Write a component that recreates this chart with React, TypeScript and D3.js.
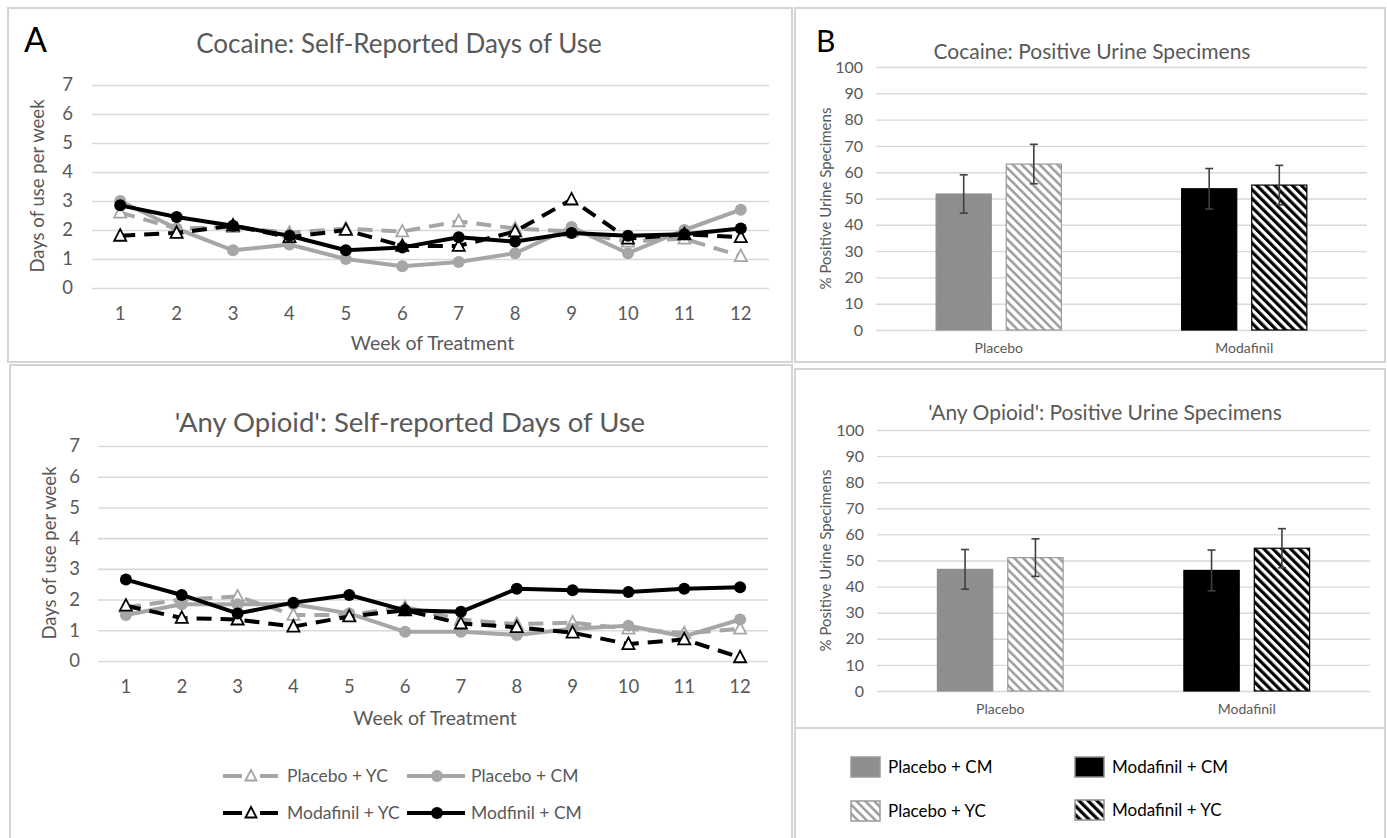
import { useEffect, useRef } from 'react';
import * as d3 from 'd3';

// weeks of treatment (x categories of the line charts)
const weeks = ['1', '2', '3', '4', '5', '6', '7', '8', '9', '10', '11', '12'];
const lineNames = ['Placebo + YC', 'Placebo + CM', 'Modafinil + YC', 'Modfinil + CM'];

// Cocaine: self-reported days of use per week
const cocainePlaceboYC = [2.6, 2.05, 2.1, 1.9, 2.05, 1.95, 2.3, 2.05, 1.95, 1.6, 1.7, 1.1];
const cocainePlaceboCM = [3.0, 2.05, 1.3, 1.5, 1.0, 0.75, 0.9, 1.2, 2.1, 1.2, 2.0, 2.7];
const cocaineModafinilYC = [1.8, 1.9, 2.15, 1.75, 2.0, 1.45, 1.45, 1.95, 3.05, 1.7, 1.85, 1.75];
const cocaineModafinilCM = [2.85, 2.45, 2.15, 1.8, 1.3, 1.4, 1.75, 1.6, 1.9, 1.8, 1.85, 2.05];

// 'Any Opioid': self-reported days of use per week
const opioidPlaceboYC = [1.75, 2.0, 2.1, 1.5, 1.5, 1.75, 1.35, 1.2, 1.25, 1.05, 0.9, 1.05];
const opioidPlaceboCM = [1.5, 1.85, 1.85, 1.85, 1.55, 0.95, 0.95, 0.85, 1.05, 1.15, 0.8, 1.35];
const opioidModafinilYC = [1.8, 1.4, 1.35, 1.12, 1.45, 1.65, 1.22, 1.1, 0.92, 0.55, 0.7, 0.12];
const opioidModafinilCM = [2.65, 2.15, 1.55, 1.9, 2.15, 1.65, 1.6, 2.35, 2.3, 2.25, 2.35, 2.4];

// urine specimens (% positive), grouped by medication
const groups = ['Placebo', 'Modafinil'];
const conditions = ['CM', 'YC'];
const cocaineCM = [51.7, 53.7];
const cocaineCMErr = [7.3, 7.7];
const cocaineYC = [63.1, 55.1];
const cocaineYCErr = [7.5, 7.5];
const opioidCM = [46.6, 46.2];
const opioidCMErr = [7.6, 7.8];
const opioidYC = [51.1, 54.7];
const opioidYCErr = [7.2, 7.5];

const FONT = 'Lato, "Open Sans", sans-serif';
const GRAY = '#a6a6a6';
const TEXT = '#595959';
const GRID = '#d9d9d9';
const BORDER = '#d4d4d4';

type Series = { name: string, values: number[], color: string, dash: string | null, marker: 'tri' | 'dot' };

const makeSeries = (a: number[], b: number[], c: number[], d: number[]): Series[] => [
	{ name: lineNames[0], values: a, color: GRAY, dash: '15,9', marker: 'tri' },
	{ name: lineNames[1], values: b, color: GRAY, dash: null, marker: 'dot' },
	{ name: lineNames[2], values: c, color: '#000', dash: '15,9', marker: 'tri' },
	{ name: lineNames[3], values: d, color: '#000', dash: null, marker: 'dot' },
];

const triPath = (cx: number, cy: number, s: number) =>
	`M${cx},${cy - s * 0.6}L${cx + s * 0.55},${cy + s * 0.45}L${cx - s * 0.55},${cy + s * 0.45}Z`;

const drawLinePanel = (svg: any, o: any) => {
	const x = d3.scaleBand().domain(weeks).range([o.left, o.right]);
	const y = d3.scaleLinear().domain([0, 7]).range([o.bottom, o.top]);

	svg.append('g')
		.attr('transform', `translate(${o.left},0)`)
		.call(d3.axisLeft(y).ticks(7).tickSize(-(o.right - o.left)).tickPadding(o.yPad))
		.call((g: any) => g.select('.domain').remove())
		.call((g: any) => g.selectAll('line').attr('stroke', GRID).attr('stroke-width', 1.6))
		.call((g: any) => g.selectAll('text').attr('fill', TEXT).attr('font-size', 18.5).attr('font-family', FONT));

	svg.append('g')
		.attr('transform', `translate(0,${o.bottom})`)
		.call(d3.axisBottom(x).tickSize(0).tickPadding(o.xPad))
		.call((g: any) => g.select('.domain').remove())
		.call((g: any) => g.selectAll('text').attr('fill', TEXT).attr('font-size', 18.5).attr('font-family', FONT));

	const px = (i: number) => (x(weeks[i]) as number) + x.bandwidth() / 2;
	const line = d3.line<number>().x((d, i) => px(i)).y(d => y(d));

	o.series.forEach((s: Series) => {
		svg.append('path')
			.attr('d', line(s.values))
			.attr('fill', 'none')
			.attr('stroke', s.color)
			.attr('stroke-width', 4)
			.attr('stroke-linejoin', 'round')
			.attr('stroke-dasharray', s.dash);
		const g = svg.append('g');
		if (s.marker === 'dot') {
			g.selectAll('circle').data(s.values).join('circle')
				.attr('cx', (d: number, i: number) => px(i))
				.attr('cy', (d: number) => y(d))
				.attr('r', 6)
				.attr('fill', s.color);
		} else {
			g.selectAll('path').data(s.values).join('path')
				.attr('d', (d: number, i: number) => triPath(px(i), y(d), 11))
				.attr('fill', '#fff')
				.attr('stroke', s.color)
				.attr('stroke-width', 1.8);
		}
	});

	svg.append('text')
		.attr('x', o.titleX).attr('y', o.titleY)
		.attr('text-anchor', 'middle').attr('dy', '0.35em')
		.attr('font-size', o.titleSize).attr('fill', TEXT).attr('font-family', FONT)
		.text(o.title);
	svg.append('text')
		.attr('x', (o.left + o.right) / 2 + 2).attr('y', o.xTitleY)
		.attr('text-anchor', 'middle').attr('dy', '0.35em')
		.attr('font-size', 19.5).attr('fill', TEXT).attr('font-family', FONT)
		.text('Week of Treatment');
	svg.append('text')
		.attr('transform', `translate(${o.yTitleX},${o.yTitleY}) rotate(-90)`)
		.attr('text-anchor', 'middle').attr('dy', '0.35em')
		.attr('font-size', 18.5).attr('fill', TEXT).attr('font-family', FONT)
		.text('Days of use per week');
};

const drawBarPanel = (svg: any, o: any) => {
	const x0 = d3.scaleBand().domain(groups).range([o.left, o.right]).paddingInner(0.49).paddingOuter(0.245);
	const x1 = d3.scaleBand().domain(conditions).range([0, x0.bandwidth()]).paddingInner(0.214);
	const y = d3.scaleLinear().domain([0, 100]).range([o.bottom, o.top]);

	svg.append('g')
		.attr('transform', `translate(${o.left},0)`)
		.call(d3.axisLeft(y).ticks(10).tickSize(-(o.right - o.left)).tickPadding(13))
		.call((g: any) => g.select('.domain').remove())
		.call((g: any) => g.selectAll('line').attr('stroke', GRID).attr('stroke-width', 1.4))
		.call((g: any) => g.selectAll('text').attr('fill', TEXT).attr('font-size', 16).attr('font-family', FONT));

	svg.append('g')
		.attr('transform', `translate(0,${o.bottom})`)
		.call(d3.axisBottom(x0).tickSize(0).tickPadding(13))
		.call((g: any) => g.select('.domain').remove())
		.call((g: any) => g.selectAll('text').attr('fill', TEXT).attr('font-size', 14).attr('font-family', FONT));

	const rows = groups.map((grp, i) => [
		{ grp, cond: 'CM', v: o.cm[i], e: o.cmErr[i], fill: i === 0 ? '#8e8e8e' : '#000', stroke: i === 0 ? '#8e8e8e' : '#000' },
		{ grp, cond: 'YC', v: o.yc[i], e: o.ycErr[i], fill: i === 0 ? 'url(#hatchGray)' : 'url(#hatchBlack)', stroke: i === 0 ? '#9a9a9a' : '#000' },
	]).flat();

	svg.append('g').selectAll('rect').data(rows).join('rect')
		.attr('x', (d: any) => (x0(d.grp) as number) + (x1(d.cond) as number))
		.attr('y', (d: any) => y(d.v))
		.attr('width', x1.bandwidth())
		.attr('height', (d: any) => y(0) - y(d.v))
		.attr('fill', (d: any) => d.fill)
		.attr('stroke', (d: any) => d.stroke)
		.attr('stroke-width', 1.2);

	const eb = svg.append('g').attr('stroke', '#404040').attr('stroke-width', 1.6);
	rows.forEach((d: any) => {
		const cx = (x0(d.grp) as number) + (x1(d.cond) as number) + x1.bandwidth() / 2;
		eb.append('line').attr('x1', cx).attr('x2', cx).attr('y1', y(d.v + d.e)).attr('y2', y(d.v - d.e));
		eb.append('line').attr('x1', cx - 4).attr('x2', cx + 4).attr('y1', y(d.v + d.e)).attr('y2', y(d.v + d.e));
		eb.append('line').attr('x1', cx - 4).attr('x2', cx + 4).attr('y1', y(d.v - d.e)).attr('y2', y(d.v - d.e));
	});

	svg.append('text')
		.attr('x', o.titleX).attr('y', o.titleY)
		.attr('text-anchor', 'middle').attr('dy', '0.35em')
		.attr('font-size', 21).attr('fill', TEXT).attr('font-family', FONT)
		.text(o.title);
	svg.append('text')
		.attr('transform', `translate(826,${(o.top + o.bottom) / 2}) rotate(-90)`)
		.attr('text-anchor', 'middle').attr('dy', '0.35em')
		.attr('font-size', 15).attr('fill', TEXT).attr('font-family', FONT)
		.text('% Positive Urine Specimens');
};

export default function App() {
	const ref = useRef<SVGSVGElement>(null);

	useEffect(() => {
		const svg = d3.select(ref.current);
		svg.selectAll('*').remove();

		const defs = svg.append('defs');
		[['hatchGray', '#a0a0a0', 2.6], ['hatchBlack', '#000', 3.2]].forEach(([id, c, w]) => {
			const p = defs.append('pattern')
				.attr('id', id as string)
				.attr('patternUnits', 'userSpaceOnUse')
				.attr('width', 6.3).attr('height', 6.3)
				.attr('patternTransform', 'rotate(-45)');
			p.append('rect').attr('width', 6.3).attr('height', 6.3).attr('fill', '#fff');
			p.append('rect').attr('width', w as number).attr('height', 6.3).attr('fill', c as string);
		});

		svg.append('rect').attr('width', 1387).attr('height', 838).attr('fill', '#fff');

		// panel frames
		const frames = [[8, 8, 784, 354], [10, 365, 782, 480], [795, 8, 590, 354], [795, 369, 590, 359], [795, 728, 590, 120]];
		svg.append('g').selectAll('rect').data(frames).join('rect')
			.attr('x', (d: number[]) => d[0]).attr('y', (d: number[]) => d[1])
			.attr('width', (d: number[]) => d[2]).attr('height', (d: number[]) => d[3])
			.attr('fill', 'none').attr('stroke', BORDER).attr('stroke-width', 2);

		drawLinePanel(svg, {
			left: 92, right: 769, top: 85, bottom: 288, yPad: 19, xPad: 19,
			series: makeSeries(cocainePlaceboYC, cocainePlaceboCM, cocaineModafinilYC, cocaineModafinilCM),
			title: 'Cocaine: Self-Reported Days of Use', titleX: 399, titleY: 44, titleSize: 26,
			xTitleY: 343, yTitleX: 38, yTitleY: 186,
		});
		drawLinePanel(svg, {
			left: 98, right: 768, top: 446, bottom: 661, yPad: 18, xPad: 19,
			series: makeSeries(opioidPlaceboYC, opioidPlaceboCM, opioidModafinilYC, opioidModafinilCM),
			title: "'Any Opioid': Self-reported Days of Use", titleX: 410, titleY: 422, titleSize: 27.5,
			xTitleY: 718, yTitleX: 50, yTitleY: 553,
		});

		drawBarPanel(svg, {
			left: 876, right: 1367, top: 67, bottom: 330,
			cm: cocaineCM, cmErr: cocaineCMErr, yc: cocaineYC, ycErr: cocaineYCErr,
			title: 'Cocaine: Positive Urine Specimens', titleX: 1092, titleY: 52,
		});
		drawBarPanel(svg, {
			left: 877, right: 1370, top: 430, bottom: 691,
			cm: opioidCM, cmErr: opioidCMErr, yc: opioidYC, ycErr: opioidYCErr,
			title: "'Any Opioid': Positive Urine Specimens", titleX: 1105, titleY: 413,
		});

		// panel letters
		svg.append('text').attr('x', 24).attr('y', 52).attr('font-size', 34).attr('font-family', FONT).text('A');
		svg.append('text').attr('x', 816).attr('y', 52).attr('font-size', 30).attr('font-family', FONT).text('B');

		// line legend
		const lineLegend = [
			{ s: 0, x: 223, y: 776 }, { s: 1, x: 407, y: 776 },
			{ s: 2, x: 223, y: 813 }, { s: 3, x: 407, y: 813 },
		];
		const seriesStyle = makeSeries([], [], [], []);
		lineLegend.forEach(({ s, x, y }) => {
			const st = seriesStyle[s];
			const g = svg.append('g');
			if (st.marker === 'tri') {
				g.append('line').attr('x1', x).attr('x2', x + 19).attr('y1', y).attr('y2', y).attr('stroke', st.color).attr('stroke-width', 4);
				g.append('line').attr('x1', x + 37).attr('x2', x + 55).attr('y1', y).attr('y2', y).attr('stroke', st.color).attr('stroke-width', 4);
				g.append('path').attr('d', triPath(x + 28, y, 10)).attr('fill', '#fff').attr('stroke', st.color).attr('stroke-width', 1.8);
			} else {
				g.append('line').attr('x1', x).attr('x2', x + 58).attr('y1', y).attr('y2', y).attr('stroke', st.color).attr('stroke-width', 4);
				g.append('circle').attr('cx', x + 30).attr('cy', y).attr('r', 6).attr('fill', st.color);
			}
			g.append('text').attr('x', x + 64).attr('y', y).attr('dy', '0.35em')
				.attr('font-size', 17.5).attr('fill', TEXT).attr('font-family', FONT).text(st.name);
		});

		// bar legend
		const barLegend = [
			{ name: 'Placebo + CM', fill: '#8e8e8e', stroke: '#9a9a9a', x: 851, y: 757 },
			{ name: 'Modafinil + CM', fill: '#000', stroke: '#8e8e8e', x: 1075, y: 757 },
			{ name: 'Placebo + YC', fill: 'url(#hatchGray)', stroke: '#9a9a9a', x: 851, y: 801 },
			{ name: 'Modafinil + YC', fill: 'url(#hatchBlack)', stroke: '#8e8e8e', x: 1075, y: 800 },
		];
		barLegend.forEach(d => {
			svg.append('rect').attr('x', d.x).attr('y', d.y).attr('width', 29).attr('height', 20)
				.attr('fill', d.fill).attr('stroke', d.stroke).attr('stroke-width', 1.5);
			svg.append('text').attr('x', d.x + 37).attr('y', d.y + 10).attr('dy', '0.35em')
				.attr('font-size', 17).attr('fill', '#000').attr('font-family', FONT).text(d.name);
		});
	}, []);

	return (
		<div style={{ position: 'absolute', left: 0, top: 0 }}>
			<svg ref={ref} width={1387} height={838} style={{ display: 'block' }} />
		</div>
	);
}
